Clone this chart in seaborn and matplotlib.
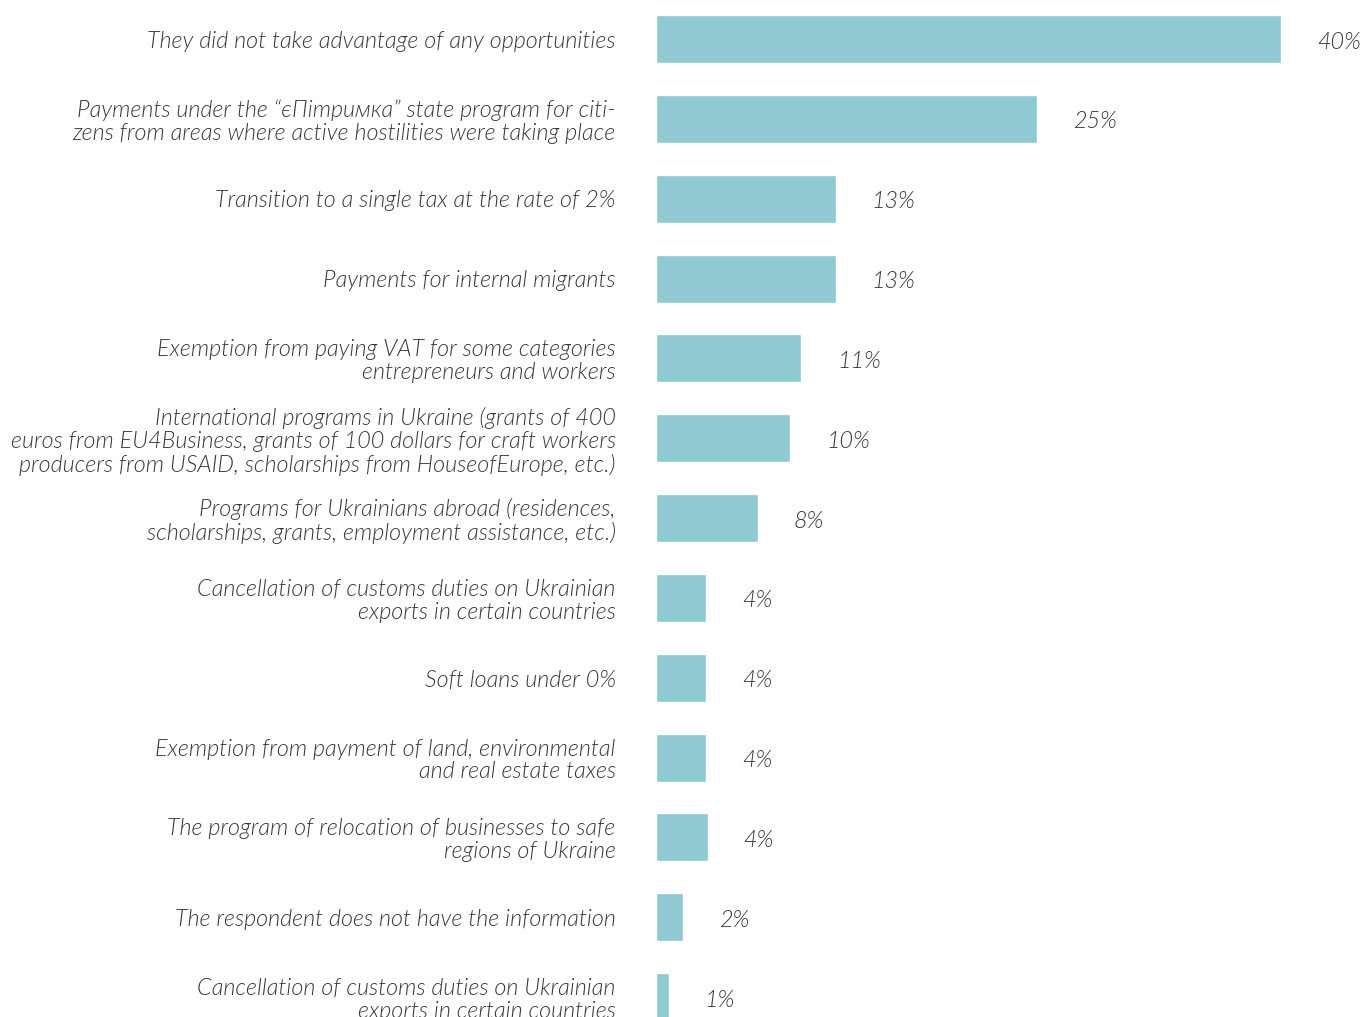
import matplotlib
matplotlib.use('Agg')
import matplotlib.pyplot as plt
import pandas as pd
import seaborn as sns

# Data
labels = [
    'They did not take advantage of any opportunities',
    'Payments under the “єПітримка” state program for citi-\nzens from areas where active hostilities were taking place',
    'Transition to a single tax at the rate of 2%',
    'Payments for internal migrants',
    'Exemption from paying VAT for some categories\nentrepreneurs and workers',
    'International programs in Ukraine (grants of 400\neuros from EU4Business, grants of 100 dollars for craft workers\nproducers from USAID, scholarships from HouseofEurope, etc.)',
    'Programs for Ukrainians abroad (residences,\nscholarships, grants, employment assistance, etc.)',
    'Cancellation of customs duties on Ukrainian\nexports in certain countries',
    'Soft loans under 0%',
    'Exemption from payment of land, environmental\nand real estate taxes',
    'The program of relocation of businesses to safe\nregions of Ukraine',
    'The respondent does not have the information',
    'Cancellation of customs duties on Ukrainian\nexports in certain countries',
]
values = [40, 24.4, 11.5, 11.5, 9.3, 8.6, 6.5, 3.2, 3.2, 3.2, 3.3, 1.7, 0.8]
value_labels = ['40%', '25%', '13%', '13%', '11%', '10%', '8%', '4%', '4%', '4%', '4%', '2%', '1%']

df = pd.DataFrame({'item': range(len(values)), 'value': values})

sns.set_style('white')
plt.rcParams['font.family'] = ['Lato', 'DejaVu Sans']

text_color = '#383838'
bar_color = '#8fcad2'
font = dict(fontsize=16.8, fontstyle='italic', fontweight=300, color=text_color)

fig = plt.figure(figsize=(13.65, 10.17), dpi=100)
ax = fig.add_axes([656 / 1365, 0, 1 - 656 / 1365, 1])

sns.barplot(data=df, x='value', y='item', orient='y', color=bar_color,
            width=0.6, saturation=1, ax=ax)

ax.set_xlim(0, 45.37)
ax.set_ylim(12.25, -0.49)
ax.set_yticks(range(len(labels)))
ax.set_yticklabels(labels, linespacing=1.1, **font)
ax.tick_params(axis='y', length=0, pad=29)
ax.set_xticks([])
ax.set(xlabel='', ylabel='')
sns.despine(ax=ax, left=True, bottom=True)

for i, (v, t) in enumerate(zip(values, value_labels)):
    ax.annotate(t, xy=(v, i), xytext=(36, -3), textcoords='offset pixels',
                va='center', ha='left', **font)

fig.savefig('out.png', dpi=100)
